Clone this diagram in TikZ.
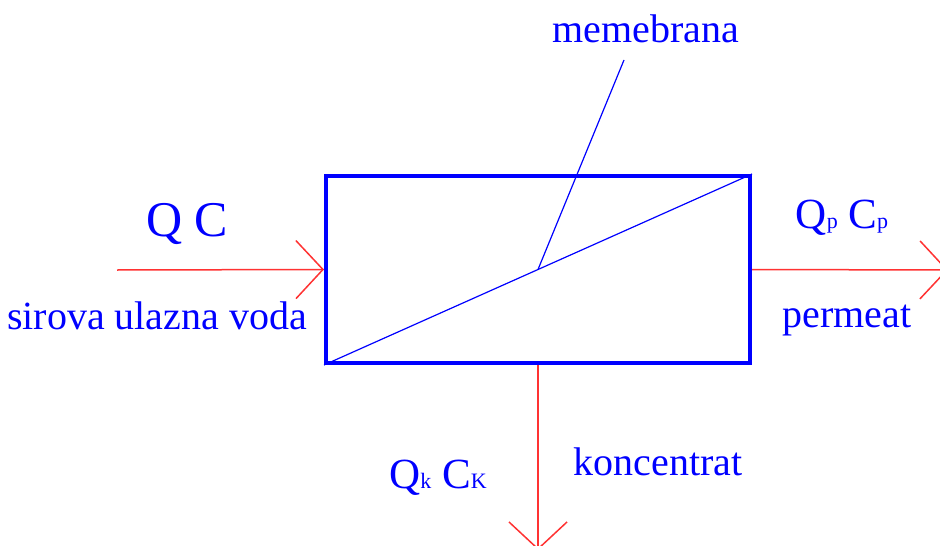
\documentclass[tikz,border=0pt]{standalone}
\usepackage{fontspec}
\setmainfont{Liberation Serif}
\usetikzlibrary{arrows.meta,calc}
\definecolor{lblue}{RGB}{0,0,255}
\definecolor{lred}{RGB}{255,50,50}
\tikzset{
  lbl/.style={text=lblue,inner sep=0pt,anchor=base,font=\fontsize{40}{42}\selectfont},
  big/.style={text=lblue,inner sep=0pt,anchor=base,font=\fontsize{50}{52}\selectfont},
  mid/.style={text=lblue,inner sep=0pt,anchor=base,font=\fontsize{43}{45}\selectfont},
  flow/.style={draw=lred,line width=1.5pt,-{Straight Barb[length=27pt,width=58pt,line width=1.5pt]}},
  membox/.style={draw=lblue,line width=4pt,minimum width=424pt,minimum height=187pt,inner sep=0pt},
  thin/.style={draw=lblue,line width=1.2pt}
}
\newcommand{\sm}[1]{{\fontsize{22}{24}\selectfont #1}}
\begin{document}
\begin{tikzpicture}[x=1pt,y=-1pt]
\useasboundingbox (0,0) rectangle (940,546);
\node[membox] (mem) at (538,269.5) {};
\coordinate (in) at (117,270);
\coordinate (out) at (948,270);
\coordinate (down) at (538,550);
\coordinate (memmid) at ($(mem.south west)!0.5!(mem.north east)$);
\coordinate (ptr) at (624,60);
\draw[thin] (mem.south west) -- (mem.north east);
\draw[thin] (ptr) -- (memmid);
\draw[flow] (in) -- (mem.west);
\draw[flow] (mem.east) -- (out);
\draw[flow] (mem.south) -- (down);
\node[big] (qc) at (187,236) {Q C};
\node[lbl] (feed) at (157,329) {sirova ulazna voda};
\node[mid] (qpcp) at (842,228) {Q\sm{p} C\sm{p}};
\node[lbl] (perm) at (847,327) {permeat};
\node[lbl] (memb) at (646,42) {memebrana};
\node[lbl] (konc) at (658,475) {koncentrat};
\node[mid] (qkck) at (438,488) {Q\sm{k} C\sm{K}};
\end{tikzpicture}
\end{document}
